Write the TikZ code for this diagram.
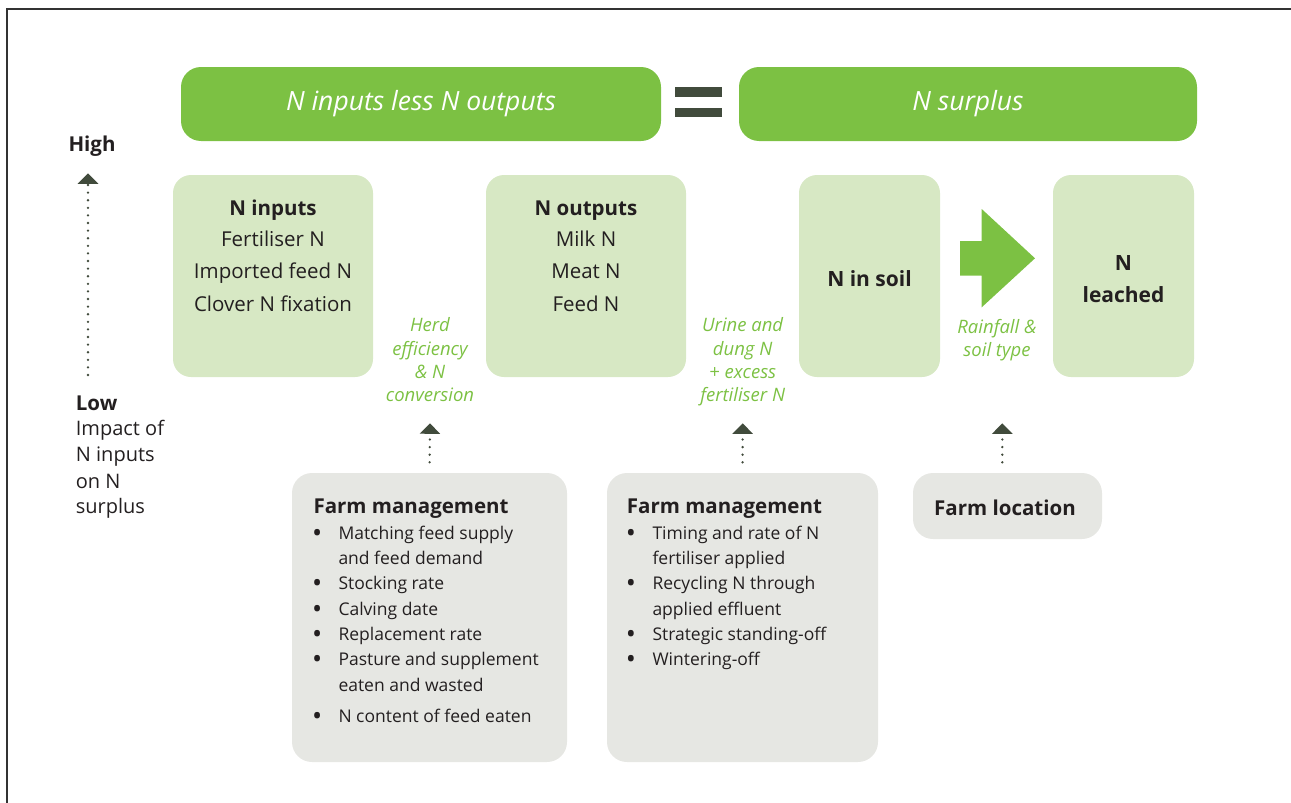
\documentclass[tikz,border=0pt]{standalone}
\usepackage{fontspec}
\setmainfont{Open Sans}
\usetikzlibrary{arrows.meta}

\definecolor{hdgreen}{HTML}{7CC143}
\definecolor{pale}{HTML}{D7E8C4}
\definecolor{stone}{HTML}{E6E7E3}
\definecolor{ink}{HTML}{231F20}
\definecolor{moss}{HTML}{414B3C}
\definecolor{framegray}{HTML}{333333}

\newcommand\fsz[2]{\fontsize{#1}{#2}\selectfont}

\tikzset{
  box/.style={inner sep=0pt, draw=none, rounded corners=18pt},
  headbox/.style={box, fill=hdgreen, rounded corners=20pt},
  palebox/.style={box, fill=pale},
  stonebox/.style={box, fill=stone, rounded corners=20pt},
  headtxt/.style={inner sep=0pt, anchor=base, text=white, font=\fsz{26.5}{30}\itshape},
  bodytxt/.style={inner sep=0pt, anchor=base, text=ink, font=\fsz{20.5}{24}},
  boldtxt/.style={inner sep=0pt, anchor=base, text=ink, font=\fsz{20.5}{24}\bfseries},
  greentxt/.style={inner sep=0pt, anchor=base, text=hdgreen, font=\fsz{18.5}{22}\itshape},
  listtxt/.style={inner sep=0pt, anchor=base west, text=ink, font=\fsz{17.5}{21}},
  bullet/.style={inner sep=0pt, anchor=base, text=ink, font=\fsz{27}{30}},
  sidetxt/.style={inner sep=0pt, anchor=base west, text=ink, font=\fsz{20}{24}},
  dotarrow/.style={moss, line width=2.6pt, line cap=round,
    dash pattern=on 0pt off 7.6pt,
    -{Triangle[width=20pt,length=10.5pt]}},
}

\begin{document}
\begin{tikzpicture}[x=1pt,y=-1pt]
\useasboundingbox (0,0) rectangle (1291,803);

% outer frame (top and left rules)
\draw[framegray, line width=1.5pt] (1291,9) -- (7,9) -- (7,803);

% equation banner
\node[headbox, minimum width=480pt, minimum height=74pt] (lhs) at (421,104) {};
\node[headbox, minimum width=458pt, minimum height=74pt] (rhs) at (968,104) {};
\node[headtxt] (lhstxt) at (421,110) {N inputs less N outputs};
\node[headtxt] (rhstxt) at (968,110) {N surplus};
\fill[moss] (675,87.3) rectangle (721.7,96.7);
\fill[moss] (675,107.7) rectangle (721.7,117.3);

% nitrogen pools
\node[palebox, minimum width=200pt, minimum height=202pt] (nin) at (273,276) {};
\node[palebox, minimum width=200pt, minimum height=202pt] (nout) at (586,276) {};
\node[palebox, minimum width=141pt, minimum height=202pt] (nsoil) at (869.5,276) {};
\node[palebox, minimum width=141pt, minimum height=202pt] (nleach) at (1123.5,276) {};

\node[boldtxt] (nin-t) at (273,215) {N inputs};
\foreach \y/\t [count=\i] in {246.7/Fertiliser N, 278.3/Imported feed N, 311.7/Clover N fixation}
  \node[bodytxt] (nin-\i) at (273,\y) {\t};

\node[boldtxt] (nout-t) at (586,215) {N outputs};
\foreach \y/\t [count=\i] in {246.7/Milk N, 278.3/Meat N, 311.7/Feed N}
  \node[bodytxt] (nout-\i) at (586,\y) {\t};

\node[boldtxt, font=\fsz{21}{24}\bfseries] (nsoil-t) at (869.5,286.7) {N in soil};
\node[boldtxt, font=\fsz{21}{24}\bfseries] (nleach-a) at (1123.5,270.7) {N};
\node[boldtxt, font=\fsz{21}{24}\bfseries] (nleach-b) at (1123.5,302.7) {leached};

% leaching arrow between soil and leached pools
\fill[hdgreen] (960,241) -- (981.7,241) -- (981.7,209) -- (1035,258.3)
  -- (981.7,307.3) -- (981.7,275.7) -- (960,275.7) -- cycle;

% process labels
\foreach \y/\t [count=\i] in {331.7/Herd, 355/efficiency, 378.3/\& N, 401.7/conversion}
  \node[greentxt] (herd-\i) at (430,\y) {\t};
\foreach \y/\t [count=\i] in {331.7/Urine and, 355/dung N, 378.3/+ excess, 401.7/fertiliser N}
  \node[greentxt] (urine-\i) at (742.7,\y) {\t};
\foreach \y/\t [count=\i] in {333.3/Rainfall \&, 356.7/soil type}
  \node[greentxt] (rain-\i) at (997,\y) {\t};

% driver boxes
\node[stonebox, minimum width=275pt, minimum height=289pt] (fm1) at (429.5,617.5) {};
\node[stonebox, minimum width=271pt, minimum height=289pt] (fm2) at (742.5,617.5) {};
\node[stonebox, minimum width=189pt, minimum height=66pt] (floc) at (1007.5,506) {};

\node[boldtxt, anchor=base west] (fm1-t) at (313.3,513.3) {Farm management};
\foreach \y/\t [count=\i] in {539/Matching feed supply, 564/and feed demand,
    589.3/Stocking rate, 615/Calving date, 640/Replacement rate,
    665/Pasture and supplement, 691/eaten and wasted, 722.7/N content of feed eaten}
  \node[listtxt] (fm1-\i) at (338.3,\y) {\t};
\foreach \y [count=\i] in {539, 589.3, 615, 640, 665, 722.7}
  \node[bullet] (fm1-b\i) at (317.3,\y+3) {\textbullet};

\node[boldtxt, anchor=base west] (fm2-t) at (626.7,513.3) {Farm management};
\foreach \y/\t [count=\i] in {539/Timing and rate of N, 564/fertiliser applied,
    589.3/Recycling N through, 615/applied effluent,
    640/Strategic standing-off, 665/Wintering-off}
  \node[listtxt] (fm2-\i) at (652.3,\y) {\t};
\foreach \y [count=\i] in {539, 589.3, 640, 665}
  \node[bullet] (fm2-b\i) at (631,\y+3) {\textbullet};

\node[boldtxt] (floc-t) at (1005,515.7) {Farm location};

% influence arrows
\coordinate (herdtip) at (430,423.3);
\coordinate (urinetip) at (742.7,423.3);
\coordinate (raintip) at (1002.3,423.3);
\draw[dotarrow, shorten <=10.5pt] (fm1.north) -- (herdtip);
\draw[dotarrow, shorten <=10.5pt] (fm2.north) -- (urinetip);
\draw[dotarrow, shorten <=10.5pt] (floc.north -| raintip) -- (raintip);

% impact scale
\node[boldtxt] (high) at (92,151.7) {High};
\coordinate (lowend) at (88,375);
\coordinate (highend) at (88,173.3);
\draw[dotarrow] (lowend) -- (highend);
\node[sidetxt, font=\fsz{20.5}{24}\bfseries] (low) at (75.7,410) {Low};
\foreach \y/\t [count=\i] in {435/Impact of, 461.7/N inputs, 488/on N, 513/surplus}
  \node[sidetxt] (side-\i) at (75.7,\y) {\t};

\end{tikzpicture}
\end{document}
